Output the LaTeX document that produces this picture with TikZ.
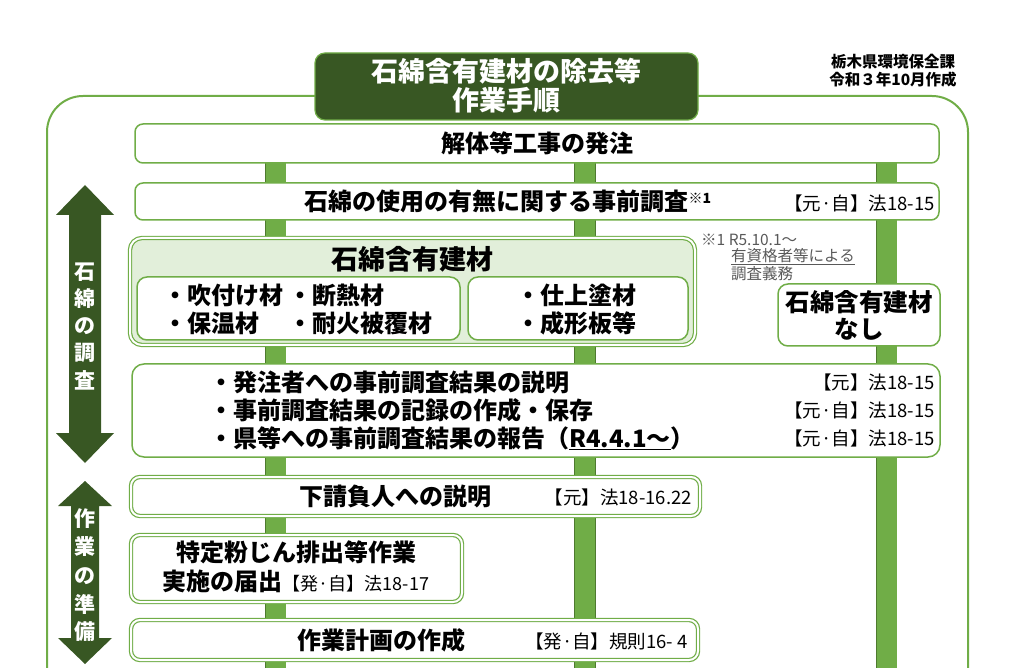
\documentclass[tikz,border=0pt]{standalone}
\usepackage{fontspec}
\newfontfamily\jp{Noto Sans CJK JP}
\definecolor{dkg}{HTML}{385723}
\definecolor{lg}{HTML}{70AD47}
\definecolor{barf}{HTML}{70AD47}
\definecolor{barb}{HTML}{4E7A2F}
\definecolor{pale}{HTML}{E2EFDA}
\definecolor{notec}{HTML}{595959}
\newcommand{\fs}[1]{\fontsize{#1}{#1}\selectfont}
\tikzset{
  box/.style={draw=lg, line width=1.5pt, fill=white, rounded corners=8pt, inner sep=0pt},
  dbox/.style={draw=lg, double=white, double distance=2pt, line width=1.2pt, fill=white, rounded corners=9pt, inner sep=0pt},
  bigt/.style={font=\jp\bfseries\fs{24}, inner sep=0pt},
  reft/.style={font=\jp\fs{18.5}, inner sep=0pt, anchor=east},
  itemt/.style={font=\jp\bfseries\fs{24}, inner sep=0pt, anchor=west},
  notet/.style={font=\jp\fs{15.5}, text=notec, inner sep=0pt, anchor=west},
  arrowt/.style={font=\jp\bfseries\fs{21}, text=white, inner sep=0pt},
  barline/.style={draw=barb, double=barf, line width=0.8pt, double distance=20pt},
}
\begin{document}
\begin{tikzpicture}[x=1pt,y=-1pt]
\useasboundingbox (0,0) rectangle (1015,668);
% outer frame
\draw[lg, line width=2pt, rounded corners=36pt] (47,680) -- (47,96) -- (968,96) -- (968,680);

\coordinate (bot1) at (275.5,668);
\coordinate (bot2) at (585,668);
\coordinate (bot3) at (886.5,668);
\coordinate (top1) at (275.5,163);
\coordinate (top2) at (585,163);
\coordinate (top3) at (886.5,163);

% bars
\draw[barline] (top1) -- (bot1);
\draw[barline] (top2) -- (bot2);
\draw[barline] (top3) -- (bot3);

% box 1
\node[box, minimum width=804pt, minimum height=39pt] (b1) at (537,143.5) {};
\node[bigt] (t1) at (537,143) {解体等工事の発注};

% box 2
\node[box, minimum width=804pt, minimum height=37pt] (b2) at (537,201.5) {};
\node[bigt] (t2) at (508,201) {石綿の使用の有無に関する事前調査\raisebox{7pt}{\fs{14}※1}};
\node[reft] (r2) at (935,203) {【元·自】法18-15};

% big box
\node[draw=lg, double=white, double distance=2pt, line width=1.2pt, fill=pale, rounded corners=12pt, minimum width=565pt, minimum height=107pt] (bb) at (412.5,291.5) {};
\node[font=\jp\bfseries\fs{27}, inner sep=0pt] (tbb) at (412,259) {石綿含有建材};
\node[box, minimum width=323pt, minimum height=63pt, rounded corners=10pt] (sl) at (298.5,308.5) {};
\node[box, minimum width=220pt, minimum height=63pt, rounded corners=10pt] (sr) at (578,308.5) {};
\node[itemt] (i1) at (163,295) {・吹付け材};
\node[itemt] (i2) at (288,295) {・断熱材};
\node[itemt] (i3) at (163,323) {・保温材};
\node[itemt] (i4) at (288,323) {・耐火被覆材};
\node[itemt] (i5) at (516,295) {・仕上塗材};
\node[itemt] (i6) at (516,323) {・成形板等};

% note
\node[notet] (n1) at (701,240) {※1 R5.10.1～};
\node[notet] (n2) at (731,257) {\underline{有資格者等による}};
\node[notet] (n3) at (731,274) {調査義務};

% nashi box
\node[box, minimum width=162pt, minimum height=62pt, rounded corners=10pt] (bn) at (859,315) {};
\node[align=center, inner sep=0pt, font=\jp\bfseries\fontsize{24.5}{27}\selectfont] (tn) at (859,315) {石綿含有建材\\なし};

% box 3
\node[box, minimum width=808pt, minimum height=93pt, rounded corners=12pt] (b3) at (536,410.5) {};
\node[itemt] (l1) at (209,382) {・発注者への事前調査結果の説明};
\node[itemt] (l2) at (209,410) {・事前調査結果の記録の作成・保存};
\node[itemt] (l3) at (209,438) {・県等への事前調査結果の報告（\underline{R4.4.1～}）};
\node[reft] (r31) at (935,382) {【元】法18-15};
\node[reft] (r32) at (935,410) {【元·自】法18-15};
\node[reft] (r33) at (935,438) {【元·自】法18-15};

% box 4
\node[dbox, minimum width=569pt, minimum height=39pt] (b4) at (415.5,496.5) {};
\node[bigt] (t4) at (395,496) {下請負人への説明};
\node[reft] (r4) at (692,497) {【元】法18-16.22};

% box 5
\node[dbox, minimum width=331pt, minimum height=67pt] (b5) at (296.5,568.5) {};
\node[bigt] (t5a) at (296,552) {特定粉じん排出等作業};
\node[bigt] (t5b) at (296,581) {実施の届出{\mdseries\fs{18}【発·自】法18-17}};

% box 6
\node[dbox, minimum width=567pt, minimum height=40pt] (b6) at (414.5,640) {};
\node[bigt] (t6) at (381,640) {作業計画の作成};
\node[reft] (r6) at (688,641) {【発·自】規則16- 4};

% title
\node[fill=dkg, draw=lg, line width=1.2pt, rounded corners=10pt, minimum width=383pt, minimum height=67pt, inner sep=0pt] (title) at (506.5,86.5) {};
\node[font=\jp\bfseries\fontsize{27}{29}\selectfont, text=white, align=center, inner sep=0pt] (tt) at (506.5,86) {石綿含有建材の除去等\\作業手順};

% top right
\node[font=\jp\bfseries\fontsize{15.5}{18}\selectfont, align=center, inner sep=0pt] (org) at (893,71) {栃木県環境保全課\\令和３年10月作成};

% arrows
\fill[dkg] (85,185) -- (114,215) -- (101,215) -- (101,433) -- (114,433) -- (85,463) -- (56,433) -- (69,433) -- (69,215) -- (56,215) -- cycle;
\node[arrowt] (a1a) at (85,272) {石};
\node[arrowt] (a1b) at (85,299) {綿};
\node[arrowt] (a1c) at (85,326) {の};
\node[arrowt] (a1d) at (85,353) {調};
\node[arrowt] (a1e) at (85,380) {査};

\fill[dkg] (85,481) -- (112,506) -- (99,506) -- (99,638) -- (112,638) -- (85,664) -- (58,638) -- (71,638) -- (71,506) -- (58,506) -- cycle;
\node[arrowt] (a2a) at (85,519) {作};
\node[arrowt] (a2b) at (85,547) {業};
\node[arrowt] (a2c) at (85,576) {の};
\node[arrowt] (a2d) at (85,604) {準};
\node[arrowt] (a2e) at (85,632) {備};
\end{tikzpicture}
\end{document}
